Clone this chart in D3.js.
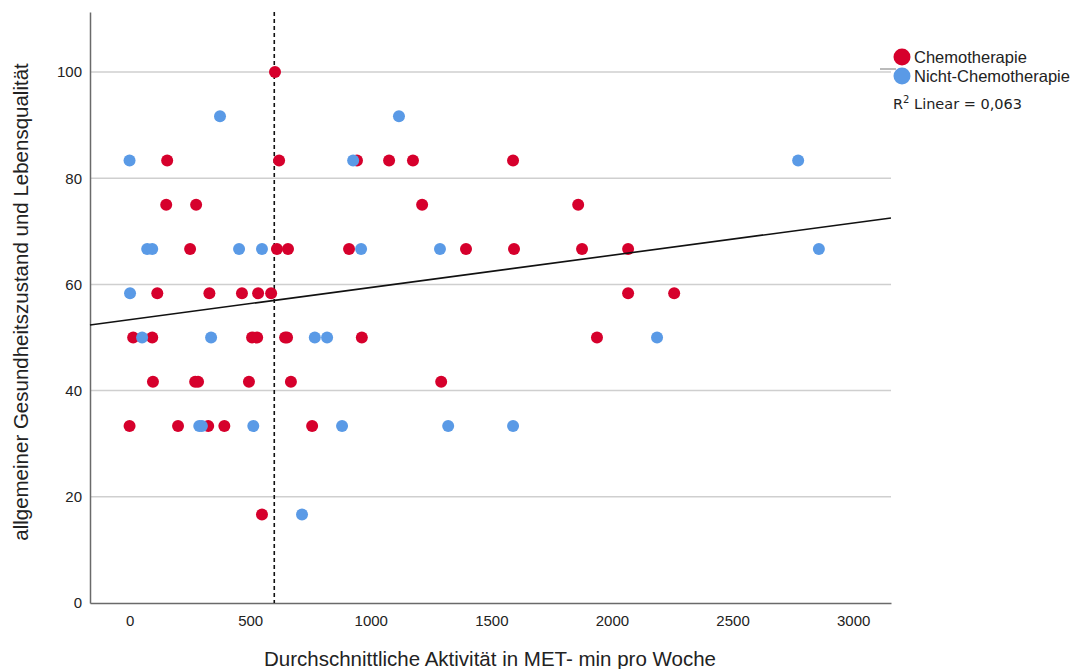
<!DOCTYPE html>
<html>
<head>
<meta charset="utf-8">
<script src="https://cdn.jsdelivr.net/npm/d3@7"></script>
<style>
  body { margin: 0; background: #fff; }
  svg { display: block; font-family: "Liberation Sans", Arial, sans-serif; }
</style>
</head>
<body>
<svg id="chart" width="1083" height="669"></svg>
<script>
// groups
const groups = ["Chemotherapie", "Nicht-Chemotherapie"];
const groupColors = ["#d6002c", "#5a9ae6"];

// Chemotherapie: MET-min/week, quality score
const chemoMet = [603, 620, 943, 1076, 1175, 1590, 156, 152, 276, 1213, 1860,
  251, 611, 657, 910, 1395, 1594, 1876, 2067,
  115, 331, 466, 533, 587, 2067, 2258,
  15, 94, 508, 529, 645, 653, 963, 1938,
  97, 272, 284, 495, 669, 1292,
  0, 201, 326, 393, 757, 549];
const chemoQol = [100, 83.33, 83.33, 83.33, 83.33, 83.33, 83.33, 75, 75, 75, 75,
  66.67, 66.67, 66.67, 66.67, 66.67, 66.67, 66.67, 66.67,
  58.33, 58.33, 58.33, 58.33, 58.33, 58.33, 58.33,
  50, 50, 50, 50, 50, 50, 50, 50,
  41.67, 41.67, 41.67, 41.67, 41.67, 41.67,
  33.33, 33.33, 33.33, 33.33, 33.33, 16.67];

// Nicht-Chemotherapie
const nonMet = [375, 1117, 0, 927, 2772, 73, 94, 454, 549, 960, 1287, 2858,
  2, 52, 338, 768, 819, 2187, 289, 300, 513, 881, 1321, 1590, 715];
const nonQol = [91.67, 91.67, 83.33, 83.33, 83.33, 66.67, 66.67, 66.67, 66.67, 66.67, 66.67, 66.67,
  58.33, 50, 50, 50, 50, 50, 33.33, 33.33, 33.33, 33.33, 33.33, 33.33, 16.67];

// linear fit (all cases)
const fitIntercept = 53.35;
const fitSlope = 0.00607;
const r2Text = "Linear = 0,063";
const cutoff = 600;

const xTicks = [0, 500, 1000, 1500, 2000, 2500, 3000];
const yTicks = [0, 20, 40, 60, 80, 100];

const svg = d3.select('#chart');
const x = d3.scaleLinear().domain([-164, 3157]).range([90, 891]);
const y = d3.scaleLinear().domain([0, 111.3]).range([603, 12]);

// grid
svg.append('g').selectAll('line').data(yTicks.filter(d => d > 0)).join('line')
  .attr('x1', x.range()[0]).attr('x2', x.range()[1])
  .attr('y1', d => y(d)).attr('y2', d => y(d))
  .attr('stroke', '#cfcfcf').attr('stroke-width', 1.5);

// axes
const gx = svg.append('g').attr('transform', `translate(0,${y(0)})`)
  .call(d3.axisBottom(x).tickValues(xTicks).tickSize(0).tickPadding(12).tickFormat(d3.format('d')));
const gy = svg.append('g').attr('transform', `translate(${x.range()[0]},0)`)
  .call(d3.axisLeft(y).tickValues(yTicks).tickSize(0).tickPadding(8));
[gx, gy].forEach(g => {
  g.select('.domain').attr('stroke', '#6a6a6a').attr('stroke-width', 1.5);
  g.selectAll('text').attr('font-size', 15).attr('fill', '#222')
    .attr('font-family', '"Liberation Sans", Arial, sans-serif');
});

// cutoff line
svg.append('line')
  .attr('x1', x(cutoff)).attr('x2', x(cutoff))
  .attr('y1', y.range()[1]).attr('y2', y(0))
  .attr('stroke', '#111').attr('stroke-width', 1.6).attr('stroke-dasharray', '4,3');

// points
const pts = [];
chemoMet.forEach((m, i) => pts.push({g: 0, m, q: chemoQol[i]}));
nonMet.forEach((m, i) => pts.push({g: 1, m, q: nonQol[i]}));
svg.append('g').selectAll('circle').data(pts).join('circle')
  .attr('cx', d => x(d.m)).attr('cy', d => y(d.q)).attr('r', 6)
  .attr('fill', d => groupColors[d.g]);

// fit line
const xd = x.domain();
svg.append('line')
  .attr('x1', x(xd[0])).attr('y1', y(fitIntercept + fitSlope * xd[0]))
  .attr('x2', x(xd[1])).attr('y2', y(fitIntercept + fitSlope * xd[1]))
  .attr('stroke', '#111').attr('stroke-width', 1.6);

// legend
const lg = svg.append('g');
lg.append('line').attr('x1', 880).attr('x2', 896).attr('y1', 69).attr('y2', 69)
  .attr('stroke', '#777').attr('stroke-width', 1);
groups.forEach((name, i) => {
  lg.append('circle').attr('cx', 902).attr('cy', 57 + i * 19).attr('r', 8.5).attr('fill', groupColors[i]);
  lg.append('text').attr('x', 914).attr('y', 57 + i * 19).attr('dy', '0.35em')
    .attr('font-size', 16.5).attr('fill', '#222').text(name);
});
const r2 = lg.append('text').attr('x', 893).attr('y', 109)
  .attr('font-size', 14.5).attr('fill', '#222').attr('font-family', '"DejaVu Sans", sans-serif');
r2.append('tspan').text('R');
r2.append('tspan').attr('dy', -6).attr('font-size', 10).text('2');
r2.append('tspan').attr('dy', 6).text(' ' + r2Text);

// axis titles
svg.append('text').attr('x', 490).attr('y', 666)
  .attr('text-anchor', 'middle').attr('font-size', 20.5).attr('fill', '#222')
  .text('Durchschnittliche Aktivität in MET- min pro Woche');
svg.append('text').attr('transform', 'translate(28,302) rotate(-90)')
  .attr('text-anchor', 'middle').attr('font-size', 20.5).attr('fill', '#222')
  .text('allgemeiner Gesundheitszustand und Lebensqualität');
</script>
</body>
</html>
